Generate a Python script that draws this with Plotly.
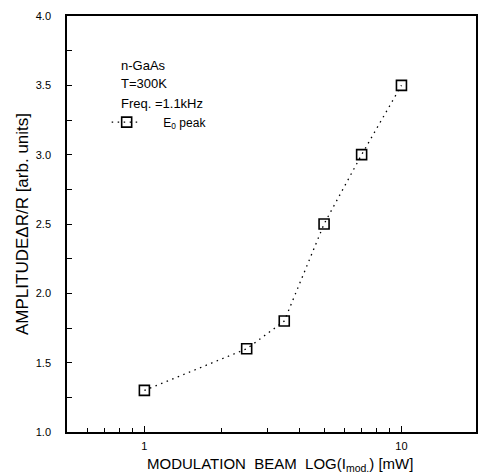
import plotly.graph_objects as go
import numpy as np

power_mw = [1.0, 2.5, 3.5, 5.0, 7.0, 10.0]
amplitude = [1.30, 1.60, 1.80, 2.50, 3.00, 3.50]

x_major = [1, 10]
x_major_text = ["1", "10"]
x_minor = [0.6, 0.7, 0.8, 0.9, 2, 3, 4, 5, 6, 7, 8, 9, 20]
y_major = [1.0, 1.5, 2.0, 2.5, 3.0, 3.5, 4.0]
y_major_text = ["1.0", "1.5", "2.0", "2.5", "3.0", "3.5", "4.0"]
y_minor = [1.25, 1.75, 2.25, 2.75, 3.25, 3.75]

x_title = "MODULATION  BEAM  LOG(I<sub>mod.</sub>) [mW]"
y_title = "AMPLITUDEΔR/R [arb. units]"

font = "Liberation Sans, Arial, sans-serif"
NB = "\u00a0"

fig = go.Figure()
fig.add_trace(go.Scatter(
    x=power_mw, y=amplitude, mode="lines+markers",
    name=NB * 5 + "E<sub>0</sub> peak",
    line=dict(color="black", width=1.3, dash="1.5px,4.5px"),
    marker=dict(symbol="square-open", size=10, color="black", line=dict(width=1.6)),
))

fig.update_layout(
    width=479, height=476,
    margin=dict(l=67, r=1, t=16, b=44),
    paper_bgcolor="white", plot_bgcolor="white",
    font=dict(family=font, color="black", size=11),
    showlegend=True,
    legend=dict(x=0.097, y=0.745, xanchor="left", yanchor="middle",
                bgcolor="rgba(0,0,0,0)", font=dict(size=12), itemwidth=30,
                tracegroupgap=0),
    annotations=[
        dict(text="n-GaAs", x=0.128, y=0.882, xref="paper", yref="paper",
             xanchor="left", yanchor="middle", showarrow=False, font=dict(size=13)),
        dict(text="T=300K", x=0.128, y=0.837, xref="paper", yref="paper",
             xanchor="left", yanchor="middle", showarrow=False, font=dict(size=13)),
        dict(text="Freq. =1.1kHz", x=0.128, y=0.789, xref="paper", yref="paper",
             xanchor="left", yanchor="middle", showarrow=False, font=dict(size=13)),
        dict(text=x_title, x=0.5215, y=-0.078, xref="paper", yref="paper",
             xanchor="center", yanchor="middle", showarrow=False, font=dict(size=15)),
    ],
)

fig.update_xaxes(
    type="log", range=[np.log10(0.5), 1.29],
    tickmode="array", tickvals=x_major, ticktext=x_major_text,
    ticks="inside", ticklen=6, tickwidth=1.2, tickcolor="black",
    minor=dict(tickmode="array", tickvals=x_minor, ticks="inside", ticklen=4,
               tickwidth=1, tickcolor="black", showgrid=False),
    showline=True, linecolor="black", linewidth=1.5, mirror=True,
    showgrid=False, zeroline=False,
    tickfont=dict(size=11), ticklabelstandoff=3,
)
fig.update_yaxes(
    range=[1.0, 4.0],
    tickmode="array", tickvals=y_major, ticktext=y_major_text,
    ticks="inside", ticklen=5, tickwidth=1.2, tickcolor="black",
    minor=dict(tickmode="array", tickvals=y_minor, ticks="inside", ticklen=5,
               tickwidth=1, tickcolor="black", showgrid=False),
    showline=True, linecolor="black", linewidth=1.5, mirror=True,
    showgrid=False, zeroline=False,
    tickfont=dict(size=11), ticklabelstandoff=12,
    title=dict(text=y_title, font=dict(size=17), standoff=3),
)

fig.write_html("out.html")
